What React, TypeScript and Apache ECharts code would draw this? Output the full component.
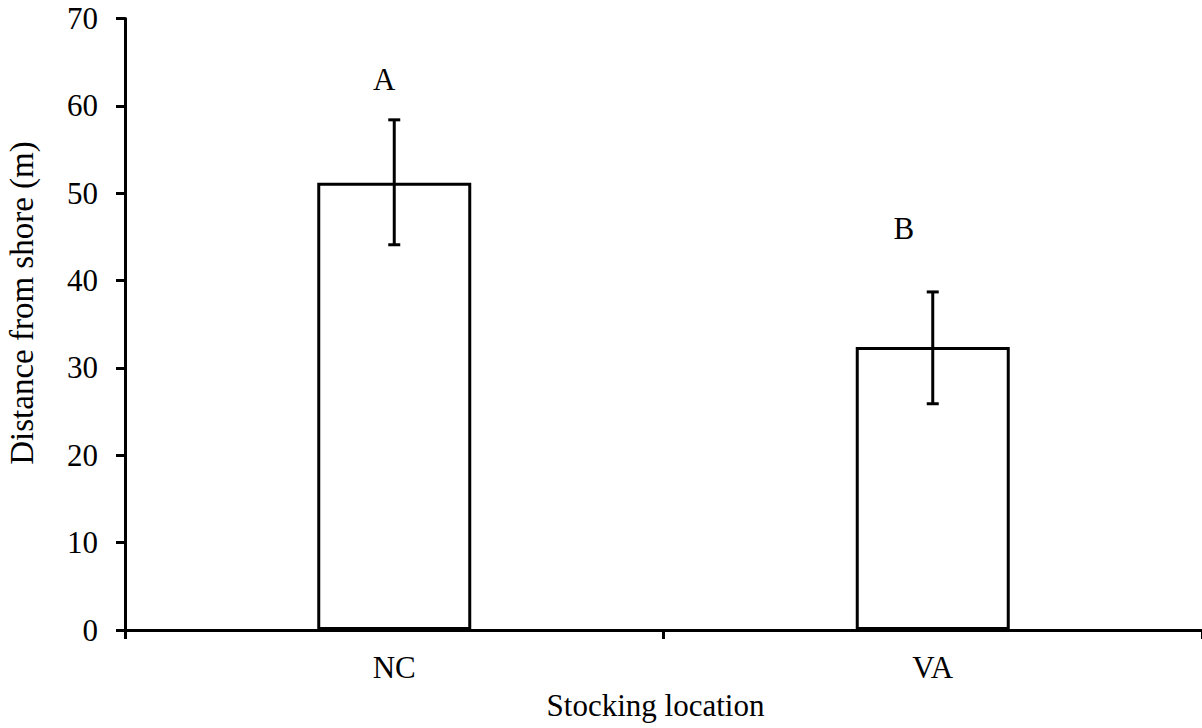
import React, { useEffect, useRef } from "react";
import * as echarts from "echarts";

const categories = ["NC", "VA"];
const means = [51.2, 32.4];
const errLow = [44.1, 25.9];
const errHigh = [58.4, 38.7];
const letters = ["A", "B"];
const letterY = [63, 46];
const yTicks = { min: 0, max: 70, interval: 10 };
const xTitle = "Stocking location";
const yTitle = "Distance from shore (m)";

const FONT = "'Liberation Serif', 'Times New Roman', serif";

export default function App() {
  const ref = useRef<HTMLDivElement>(null);
  useEffect(() => {
    document.body.style.margin = "0";
    const chart = echarts.init(ref.current!, null, { renderer: "svg" });
    const letterOffsets = [-10, -29];
    chart.setOption({
      animation: false,
      backgroundColor: "#ffffff",
      grid: { left: 125, top: 18.5, bottom: 98, right: -5, containLabel: false },
      graphic: [
        {
          type: "text",
          x: 22,
          y: 303,
          rotation: Math.PI / 2,
          style: {
            text: yTitle,
            fontFamily: FONT,
            fontSize: 33,
            fill: "#000",
            align: "center",
            verticalAlign: "middle",
          },
        },
      ],
      xAxis: {
        type: "category",
        data: categories,
        name: xTitle,
        nameLocation: "middle",
        nameGap: 60,
        nameTextStyle: { fontFamily: FONT, fontSize: 31, color: "#000", padding: [0, 16, 0, 0] },
        axisLine: { lineStyle: { color: "#000", width: 3 } },
        axisTick: { show: true, length: 9, lineStyle: { color: "#000", width: 3 } },
        axisLabel: { fontFamily: FONT, fontSize: 31, color: "#000", margin: 22 },
      },
      yAxis: {
        type: "value",
        min: yTicks.min,
        max: yTicks.max,
        interval: yTicks.interval,
        axisLine: { show: true, lineStyle: { color: "#000", width: 3 } },
        axisTick: { show: true, length: 9, lineStyle: { color: "#000", width: 3 } },
        splitLine: { show: false },
        axisLabel: { fontFamily: FONT, fontSize: 31, color: "#000", margin: 27 },
      },
      series: [
        {
          type: "bar",
          data: means,
          barWidth: 154,
          itemStyle: { color: "#fff", borderColor: "#000", borderWidth: 3 },
          z: 2,
        },
        {
          type: "custom",
          data: categories.map((c, i) => [i, errLow[i], errHigh[i]]),
          z: 3,
          renderItem: (params: any, api: any) => {
            const x = api.value(0);
            const lo = api.coord([x, api.value(1)]);
            const hi = api.coord([x, api.value(2)]);
            const cap = 6;
            const style = { stroke: "#000", lineWidth: 3 };
            return {
              type: "group",
              children: [
                { type: "line", shape: { x1: lo[0], y1: lo[1], x2: hi[0], y2: hi[1] }, style },
                { type: "line", shape: { x1: hi[0] - cap, y1: hi[1], x2: hi[0] + cap, y2: hi[1] }, style },
                { type: "line", shape: { x1: lo[0] - cap, y1: lo[1], x2: lo[0] + cap, y2: lo[1] }, style },
              ],
            };
          },
        },
        {
          type: "custom",
          data: categories.map((c, i) => [i, letterY[i]]),
          z: 4,
          renderItem: (params: any, api: any) => {
            const i = params.dataIndex;
            const p = api.coord([api.value(0), api.value(1)]);
            return {
              type: "text",
              x: p[0] + letterOffsets[i],
              y: p[1],
              style: {
                text: letters[i],
                fontFamily: FONT,
                fontSize: 31,
                fill: "#000",
                align: "center",
                verticalAlign: "middle",
              },
            };
          },
        },
      ],
    });
    return () => chart.dispose();
  }, []);
  return <div ref={ref} style={{ width: 1202, height: 728 }} />;
}
